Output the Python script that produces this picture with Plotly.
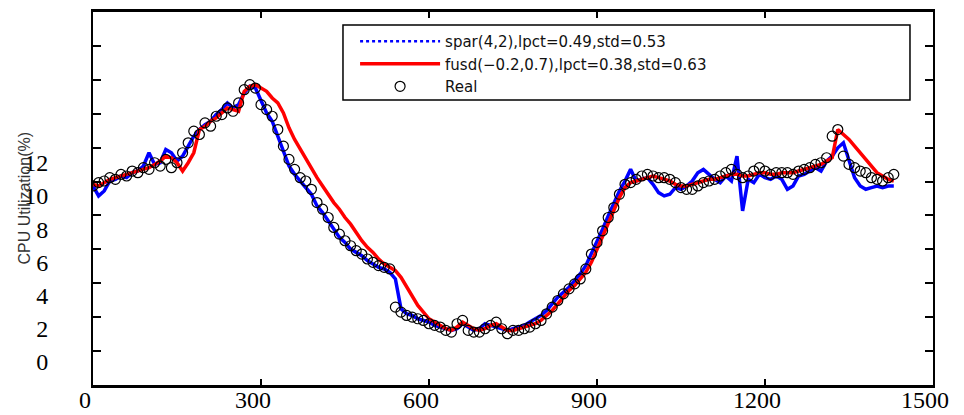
import plotly.graph_objects as go

# sample times (minutes)
minutes = list(range(0, 1440, 10))

real_vals = [
    10.6, 10.8, 10.9, 11.1, 11.0, 11.3, 11.2, 11.5, 11.4, 11.7,
    11.6, 12.0, 11.8, 12.2, 11.7, 12.0, 12.6, 13.2, 13.9, 13.7,
    14.4, 14.2, 14.8, 14.9, 15.3, 15.1, 15.6, 16.4, 16.7, 16.5,
    15.5, 15.2, 14.8, 14.0, 13.0, 12.2, 11.6, 11.1, 10.9, 10.4,
    9.6, 9.2, 8.7, 8.1, 7.7, 7.3, 7.0, 6.7, 6.5, 6.2,
    6.0, 5.8, 5.7, 5.6, 3.3, 3.0, 2.8, 2.7, 2.6, 2.5,
    2.3, 2.2, 2.1, 1.9, 1.8, 2.3, 2.5, 1.9, 1.8, 1.8,
    2.0, 2.2, 2.4, 2.0, 1.7, 1.9, 1.9, 2.0, 2.1, 2.3,
    2.5, 2.9, 3.3, 3.7, 4.1, 4.4, 4.7, 5.0, 5.6, 6.5,
    7.2, 7.9, 8.7, 9.3, 10.1, 10.7, 10.8, 11.0, 11.2, 11.3,
    11.2, 11.1, 11.1, 11.0, 10.8, 10.5, 10.4, 10.4, 10.6, 10.8,
    10.9, 11.0, 11.2, 11.4, 11.6, 11.3, 11.1, 11.2, 11.5, 11.7,
    11.5, 11.3, 11.4, 11.4, 11.4, 11.3, 11.5, 11.6, 11.7, 11.9,
    12.0, 12.3, 13.6, 14.0, 12.4, 11.9, 11.7, 11.5, 11.4, 11.1,
    11.0, 10.9, 11.1, 11.3,
]

spar_vals = [
    10.6, 10.0, 10.3, 10.9, 11.0, 11.2, 11.1, 11.4, 11.5, 11.8,
    12.6, 11.9, 12.0, 12.8, 12.6, 12.1, 12.4, 13.0, 13.6, 14.0,
    14.3, 14.5, 14.9, 15.2, 15.6, 15.3, 15.5, 16.2, 16.6, 16.5,
    15.7, 15.0, 14.5, 13.6, 12.6, 11.8, 11.3, 10.9, 10.5, 10.1,
    9.4, 9.0, 8.5, 8.0, 7.5, 7.2, 6.8, 6.6, 6.4, 6.1,
    5.9, 5.7, 5.6, 5.4, 5.0, 3.2, 2.9, 2.8, 2.6, 2.5,
    2.4, 2.2, 2.1, 2.0, 1.9, 2.0, 2.3, 2.1, 1.9, 2.0,
    2.3, 2.2, 2.1, 2.0, 1.9, 2.0, 2.1, 2.2, 2.4, 2.6,
    2.8, 3.1, 3.5, 3.9, 4.2, 4.5, 4.9, 5.3, 5.8, 6.5,
    7.3, 8.0, 8.8, 9.6, 10.3, 10.9, 11.6, 10.9, 11.0, 11.1,
    10.7, 10.2, 10.0, 10.1, 10.5, 10.4, 10.6, 10.9, 11.4, 11.6,
    11.3, 11.0, 10.8, 11.2, 10.9, 12.4, 9.1, 11.0, 10.8, 11.3,
    11.1, 11.0, 11.2, 11.0, 10.4, 10.6, 11.2, 11.3, 11.5, 11.7,
    11.5, 12.1, 12.4, 12.9, 13.2, 12.2, 11.1, 10.6, 10.4, 10.5,
    10.6, 10.5, 10.6, 10.6,
]

fusd_vals = [
    10.7, 10.6, 10.8, 11.0, 11.1, 11.2, 11.3, 11.4, 11.5, 11.6,
    11.7, 11.9, 12.1, 12.4, 12.3, 12.0, 11.5, 12.0, 12.6, 14.0,
    14.2, 14.5, 14.7, 15.0, 15.3, 15.2, 15.1, 16.3, 16.6, 16.7,
    16.5, 16.3, 15.9, 15.6, 15.0, 14.1, 13.4, 12.8, 12.3, 11.7,
    11.1, 10.6, 10.1, 9.6, 9.2, 8.7, 8.3, 7.8, 7.3, 6.9,
    6.6, 6.2, 5.9, 5.7, 5.5, 5.1, 4.5, 3.9, 3.4, 3.0,
    2.6, 2.4, 2.2, 2.0, 1.9, 2.1, 2.4, 2.2, 2.0, 1.9,
    2.0, 2.2, 2.3, 2.1, 1.9, 1.9, 2.0, 2.1, 2.2, 2.3,
    2.5, 2.8, 3.1, 3.5, 3.9, 4.3, 4.6, 5.0, 5.4, 6.0,
    6.8, 7.5, 8.3, 9.1, 9.9, 10.5, 10.8, 10.9, 11.0, 11.1,
    11.2, 11.1, 11.0, 10.9, 10.7, 10.6, 10.6, 10.7, 10.8, 10.9,
    11.0, 11.0, 11.1, 11.2, 11.3, 11.3, 11.2, 11.2, 11.3, 11.4,
    11.4, 11.3, 11.3, 11.4, 11.4, 11.4, 11.5, 11.6, 11.7, 11.8,
    11.9, 12.1, 12.3, 14.0, 13.7, 13.4, 13.0, 12.6, 12.2, 11.8,
    11.4, 11.2, 11.0, 10.9,
]

x_ticks = [0, 300, 600, 900, 1200, 1500]
y_label_ticks = [0, 2, 4, 6, 8, 10, 12]
y_mark_ticks = [2, 4, 6, 8, 10, 12, 14, 16, 18, 20]

name_spar = "spar(4,2),lpct=0.49,std=0.53"
name_fusd = "fusd(\u22120.2,0.7),lpct=0.38,std=0.63"
name_real = "Real"
y_title = "CPU Utilization(%)"

fig = go.Figure()
fig.add_trace(go.Scatter(x=minutes, y=spar_vals, mode="lines",
                         line=dict(color="#0000ff", width=3.5),
                         showlegend=False, legendgroup="spar"))
fig.add_trace(go.Scatter(x=[None], y=[None], mode="lines", name=name_spar,
                         line=dict(color="#0000ff", width=2.5, dash="dot"),
                         legendgroup="spar"))
fig.add_trace(go.Scatter(x=minutes, y=fusd_vals, mode="lines", name=name_fusd,
                         line=dict(color="#ff0000", width=3.5)))
fig.add_trace(go.Scatter(x=minutes, y=real_vals, mode="markers", name=name_real,
                         marker=dict(symbol="circle-open", size=10, color="black",
                                     line=dict(width=1.2, color="black"))))
# helper trace so the tick-mark axis is drawn
fig.add_trace(go.Scatter(x=[None], y=[None], yaxis="y2", showlegend=False,
                         hoverinfo="skip"))

serif = "Liberation Serif"
sans = "DejaVu Sans"

# the page body has an 8px margin, so the figure is 8px smaller and shifted
fig.update_layout(
    width=956, height=407, autosize=False,
    margin=dict(l=85, r=31, t=4, b=30),
    paper_bgcolor="white", plot_bgcolor="white",
    xaxis=dict(range=[0, 1500], tickvals=x_ticks, ticktext=[str(v) for v in x_ticks],
               showline=True, linecolor="black", linewidth=2.5, mirror="ticks",
               ticks="inside", ticklen=6, tickwidth=1.5, tickcolor="black",
               showgrid=False, zeroline=False, automargin=False,
               tickfont=dict(family=serif, size=24, color="black"),
               ticklabelshift=-8, ticklabelstandoff=-9),
    yaxis=dict(range=[-1.39, 21.08], tickvals=y_label_ticks,
               ticktext=[str(v) for v in y_label_ticks],
               showline=True, linecolor="black", linewidth=2, mirror=True,
               ticks="", showgrid=False, zeroline=False, automargin=False,
               tickfont=dict(family=serif, size=24, color="black"),
               ticklabelstandoff=38),
    yaxis2=dict(overlaying="y", side="left", range=[0, 22], tickvals=y_mark_ticks,
                showticklabels=False, ticks="inside", ticklen=8, tickwidth=1.5,
                tickcolor="black", showline=False, mirror="ticks", automargin=False,
                showgrid=False, zeroline=False),
    legend=dict(x=0.312, y=0.965, xanchor="left", yanchor="top",
                bgcolor="rgba(0,0,0,0)", borderwidth=0,
                font=dict(family=sans, size=15, color="#111"),
                tracegroupgap=0, itemwidth=80),
    shapes=[dict(type="rect", xref="paper", yref="paper",
                 x0=0.2976, x1=0.9726, y0=0.764, y1=0.965,
                 line=dict(color="black", width=1.5), fillcolor="white",
                 layer="below")],
    annotations=[dict(text=y_title, textangle=-90, xref="paper", yref="paper",
                      x=-0.081, y=0.5, showarrow=False, xanchor="center",
                      yanchor="middle",
                      font=dict(family="Liberation Sans", size=16, color="#333"))],
)

fig.write_html("out.html")
